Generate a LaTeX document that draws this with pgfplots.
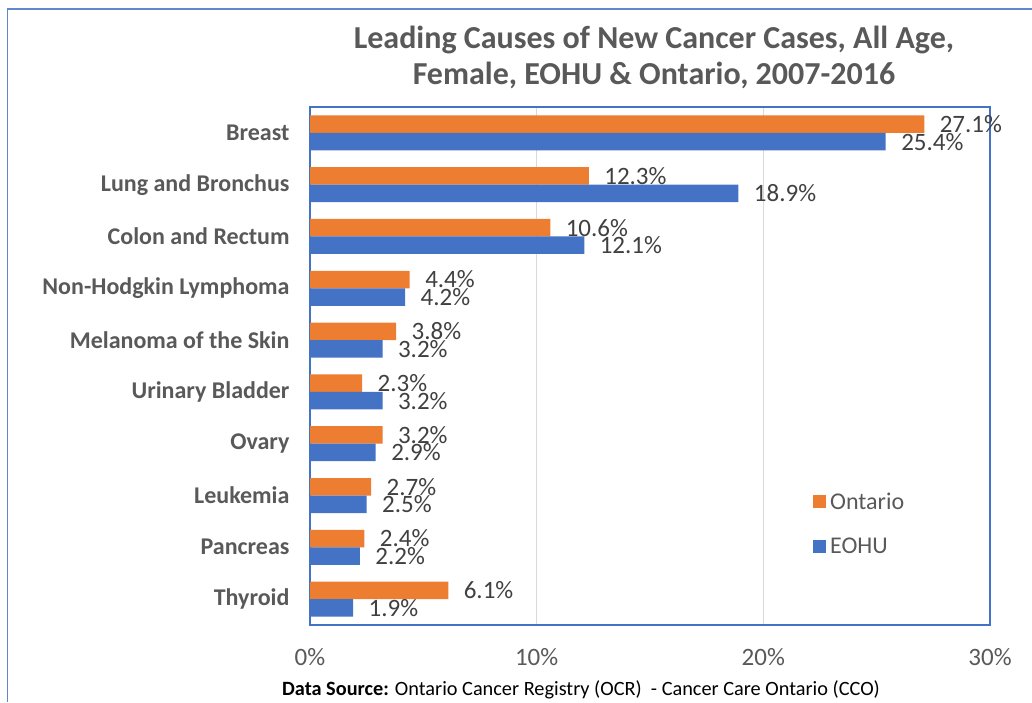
\documentclass[border=0pt]{standalone}
\usepackage{pgfplots}
\pgfplotsset{compat=1.18}
\usepackage{fontspec}
\setmainfont{Carlito}
\definecolor{ontario}{HTML}{ED7D31}
\definecolor{eohu}{HTML}{4472C4}
\definecolor{txtgrey}{HTML}{595959}
\definecolor{lblgrey}{HTML}{404040}
\definecolor{gridgrey}{HTML}{D9D9D9}
\begin{document}
\begin{tikzpicture}[x=1pt,y=1pt]
\useasboundingbox (0,0) rectangle (1032,702);
\draw[eohu!85, line width=1.2pt] (7.5,0) -- (7.5,693) -- (1032,693);
\begin{axis}[
  at={(310pt,77pt)}, anchor=south west,
  scale only axis, width=680pt, height=518pt,
  xmin=0, xmax=30, ymin=-0.5, ymax=9.5,
  xbar, bar width=17.5pt,
  xtick={0,10,20,30}, xticklabels={0\%,10\%,20\%,30\%},
  ytick={0,...,9},
  yticklabels={Thyroid,Pancreas,Leukemia,Ovary,Urinary Bladder,Melanoma of the Skin,Non-Hodgkin Lymphoma,Colon and Rectum,Lung and Bronchus,Breast},
  major tick length=0pt,
  xmajorgrids, grid style={gridgrey, line width=1.2pt},
  axis line style={eohu, line width=1.2pt},
  xticklabel style={font=\fontsize{25}{28}\selectfont, text=txtgrey, yshift=-20pt},
  yticklabel style={font=\bfseries\fontsize{24}{28}\selectfont, text=txtgrey, xshift=-17pt},
  point meta=x,
  nodes near coords={\pgfmathprintnumber[fixed,fixed zerofill,precision=1,assume math mode=true]{\pgfplotspointmeta}\%},
  nodes near coords style={font=\fontsize{25}{28}\selectfont, text=lblgrey, anchor=west, xshift=12pt},
  legend style={at={(rel axis cs:0.7353,0.2636)}, anchor=north west, draw=none, fill=none,
    font=\fontsize{24}{28}\selectfont, text=txtgrey, row sep=23pt, cells={anchor=west}},
]
\addplot[fill=ontario, draw=none, bar shift=8.75pt,
  legend image code/.code={\fill[ontario] (0pt,-6.5pt) rectangle (13pt,6.5pt);}]
  coordinates {(27.1,9) (12.3,8) (10.6,7) (4.4,6) (3.8,5) (2.3,4) (3.2,3) (2.7,2) (2.4,1) (6.1,0)};
\addlegendentry{\hspace{2pt}Ontario}
\addplot[fill=eohu, draw=none, bar shift=-8.75pt,
  legend image code/.code={\fill[eohu] (0pt,-6.5pt) rectangle (13pt,6.5pt);}]
  coordinates {(25.4,9) (18.9,8) (12.1,7) (4.2,6) (3.2,5) (3.2,4) (2.9,3) (2.5,2) (2.2,1) (1.9,0)};
\addlegendentry{\hspace{2pt}EOHU}
\end{axis}
\node[font=\bfseries\fontsize{32}{36}\selectfont, text=txtgrey, align=center] at (654,645)
  {Leading Causes of New Cancer Cases, All Age,\\Female, EOHU \& Ontario, 2007-2016};
\node[font=\fontsize{20.3}{24}\selectfont, text=black] at (581,12)
  {\textbf{Data Source:} Ontario Cancer Registry (OCR)~~- Cancer Care Ontario (CCO)};
\end{tikzpicture}
\end{document}
